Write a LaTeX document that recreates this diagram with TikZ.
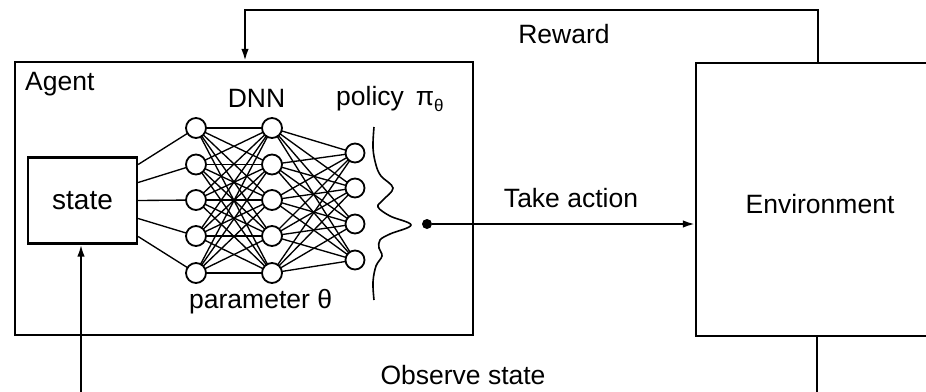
\documentclass[tikz,border=0pt]{standalone}
\usepackage{fontspec}
\setmainfont{Liberation Sans}
\usetikzlibrary{arrows.meta}
\tikzset{
  lbl/.style={font=\fontsize{26.5}{30}\selectfont, inner sep=0pt},
  box/.style={draw, line width=2.3pt, inner sep=0pt},
  neuron/.style={circle, draw, fill=white, line width=1.8pt, minimum size=20pt, inner sep=0pt},
  wire/.style={line width=1.35pt},
  flow/.style={line width=2pt, -{Latex[length=12pt,width=7.5pt]}},
}
\begin{document}
\begin{tikzpicture}[x=1pt,y=-1pt]
\useasboundingbox (0,0) rectangle (926,391);
\clip (0,0) rectangle (926,391);

% main blocks
\node[box, minimum width=458pt, minimum height=273pt] (agent) at (244,198.5) {};
\node[box, minimum width=248pt, minimum height=273pt] (env) at (820,199.5) {};
\node[box, minimum width=109pt, minimum height=86pt, font=\fontsize{28}{30}\selectfont] (state) at (82.5,200.5) {state};

% labels
\node[lbl, anchor=base west] (agentlbl) at (25,90) {Agent};
\node[lbl, anchor=base] (envlbl) at (820,213) {Environment};
\node[lbl, anchor=base] (dnnlbl) at (256.5,107) {DNN};
\node[lbl, anchor=base west] (pollbl) at (336,105) {policy\hspace{12pt}π\raisebox{-6pt}{\fontsize{17}{17}\selectfont θ}};
\node[lbl, anchor=base west] (parlbl) at (189,308) {parameter θ};
\node[lbl, anchor=base] (rewlbl) at (564,43) {Reward};
\node[lbl, anchor=base] (actlbl) at (571,207) {Take action};
\node[lbl, anchor=base] (obslbl) at (463,384) {Observe state};

% network layers
\foreach \i/\y in {1/128,2/164.5,3/200,4/236,5/273} {
  \coordinate (a\i) at (196,\y);
  \coordinate (b\i) at (272,\y);
}
\foreach \i/\y in {1/153,2/188,3/224,4/260}
  \coordinate (c\i) at (355,\y);

% weights (drawn first, neurons go on top)
\foreach \i/\o in {1/36,2/18,3/0,4/-18,5/-36}
  \draw[wire] ([yshift=\o pt]state.east) -- (a\i);
\foreach \i in {1,...,5}
  \foreach \j in {1,...,5}
    \draw[wire] (a\i) -- (b\j);
\foreach \i in {1,...,5}
  \foreach \j in {1,...,4}
    \draw[wire] (b\i) -- (c\j);

% neurons
\foreach \i in {1,...,5} {
  \node[neuron] (na\i) at (a\i) {};
  \node[neuron] (nb\i) at (b\i) {};
}
\foreach \i in {1,...,4}
  \node[neuron, minimum size=19pt] (nc\i) at (c\i) {};

% policy distribution curve
\draw[line width=1.6pt] plot[smooth, tension=0.6] coordinates {
  (374,127) (373,148) (376,165) (381,176) (393,188) (383,200) (378,207)
  (390,216) (411,225) (390,234) (380,240) (379,248) (382,256) (376,266)
  (373,282) (374,300)};

% action output
\node[circle, fill, inner sep=0pt, minimum size=10pt] (act) at (427,224) {};
\draw[flow] (act) -- (env.west |- act);

% reward loop
\coordinate (rx) at (818,10);
\coordinate (lx) at (245,10);
\draw[flow] (env.north -| rx) -- (rx) -- (lx) -- (agent.north -| lx);

% observation loop
\coordinate (ox) at (817,420);
\coordinate (sx) at (81,420);
\draw[flow] (env.south -| ox) -- (ox) -- (sx) -- (state.south -| sx);
\end{tikzpicture}
\end{document}
